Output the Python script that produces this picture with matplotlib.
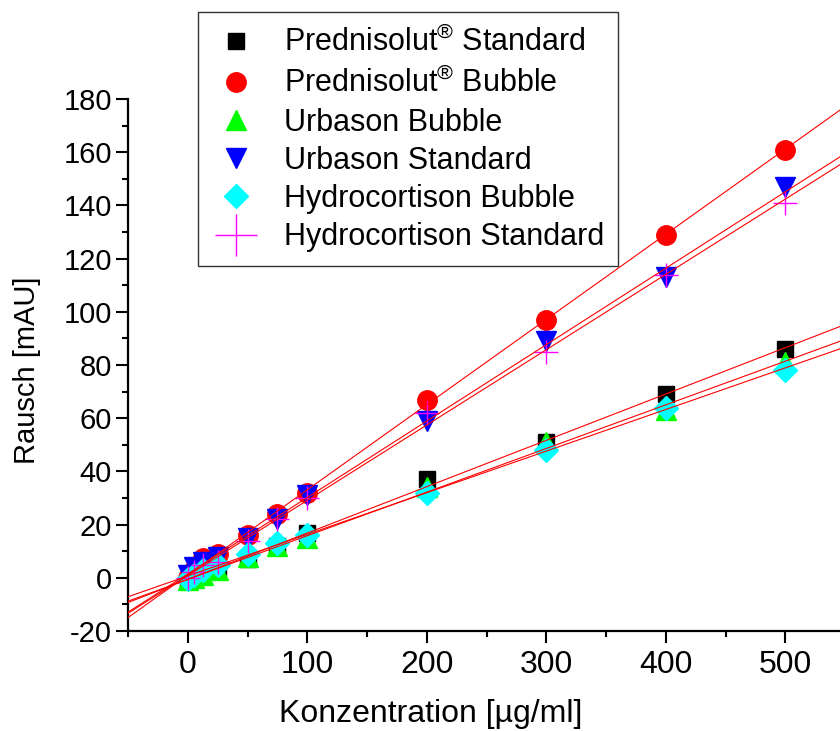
import numpy as np
import matplotlib
matplotlib.use("Agg")
import matplotlib.pyplot as plt
from matplotlib.ticker import MultipleLocator

plt.rcParams['font.family'] = ['Liberation Sans', 'DejaVu Sans']
plt.rcParams['mathtext.fontset'] = 'custom'
plt.rcParams['mathtext.rm'] = 'Liberation Sans'
plt.rcParams['axes.unicode_minus'] = False

# concentration [µg/ml]
conc = [0, 5, 12.5, 25, 50, 75, 100, 200, 300, 400, 500]

pred_std = [-1, 0, 2, 4, 7, 12, 17, 37, 51, 69, 86]
pred_bub = [0, 3, 7.5, 9, 16, 24, 32, 67, 97, 129, 161]
urb_bub = [-1, 0, 1, 3, 8, 12, 15, 34, 51, 63, 81]
urb_std = [1, 4, 6, 8, 15, 22, 31, 59, 89, 113, 147]
hyd_bub = [-0.5, 1, 3, 5, 9, 13, 16, 32, 48, 64, 78]
hyd_std = [0, 2, 5, 6, 14, 22, 30, 62, 85, 114, 141]

labels = [r"Prednisolut$^{\circledR}$ Standard",
          r"Prednisolut$^{\circledR}$ Bubble",
          "Urbason Bubble",
          "Urbason Standard",
          "Hydrocortison Bubble",
          "Hydrocortison Standard"]
series = [pred_std, pred_bub, urb_bub, urb_std, hyd_bub, hyd_std]
styles = [("s", "black", 12), ("o", "red", 14), ("^", "#00ff00", 15),
          ("v", "blue", 15), ("D", "cyan", 12), ("+", "magenta", 17)]

fig = plt.figure(figsize=(8.4, 7.31), dpi=100)
ax = fig.add_axes([128 / 840, 100 / 731, 717 / 840, 532 / 731])

x = np.array(conc, dtype=float)
handles = []
for ys, (m, c, ms), lab in zip(series, styles, labels):
    h, = ax.plot(x, ys, linestyle="none", marker=m, color=c, markersize=ms,
                 markeredgecolor=c, markeredgewidth=1.0, label=lab, zorder=2)
    handles.append(h)

xx = np.array([-50, 550])
for ys in series:
    k, d = np.polyfit(x, ys, 1)
    ax.plot(xx, k * xx + d, color="red", linewidth=0.8, zorder=3)

ax.set_xlim(-50, 550)
ax.set_ylim(-20, 180)
ax.xaxis.set_major_locator(MultipleLocator(100))
ax.xaxis.set_minor_locator(MultipleLocator(50))
ax.yaxis.set_major_locator(MultipleLocator(20))
ax.yaxis.set_minor_locator(MultipleLocator(10))
for s in ("top", "right"):
    ax.spines[s].set_visible(False)
for s in ("left", "bottom"):
    ax.spines[s].set_linewidth(1.6)
ax.tick_params(which="major", direction="out", length=8.5, width=1.5, pad=3)
ax.tick_params(which="minor", direction="out", length=4.5, width=1.5)
ax.tick_params(axis="x", labelsize=23, pad=5)
ax.tick_params(axis="y", labelsize=21)

ax.set_xlabel(u"Konzentration [\u00b5g/ml]", fontsize=23)
ax.xaxis.set_label_coords(0.4226, -0.128)
ax.set_ylabel("Rausch [mAU]", fontsize=21)
ax.yaxis.set_label_coords(-0.122, 0.49)

leg = fig.legend(handles=handles, loc="upper left",
                 bbox_to_anchor=(198 / 840, 1 - 12 / 731),
                 fontsize=22, frameon=True, fancybox=False,
                 edgecolor="#333333", framealpha=1, labelspacing=0.27,
                 handletextpad=0.75, borderpad=0.45, handlelength=1.6,
                 borderaxespad=0)
leg.get_frame().set_linewidth(1.0)
leg.legend_handles[5].set_markersize(30)

fig.savefig("out.png", dpi=100)
